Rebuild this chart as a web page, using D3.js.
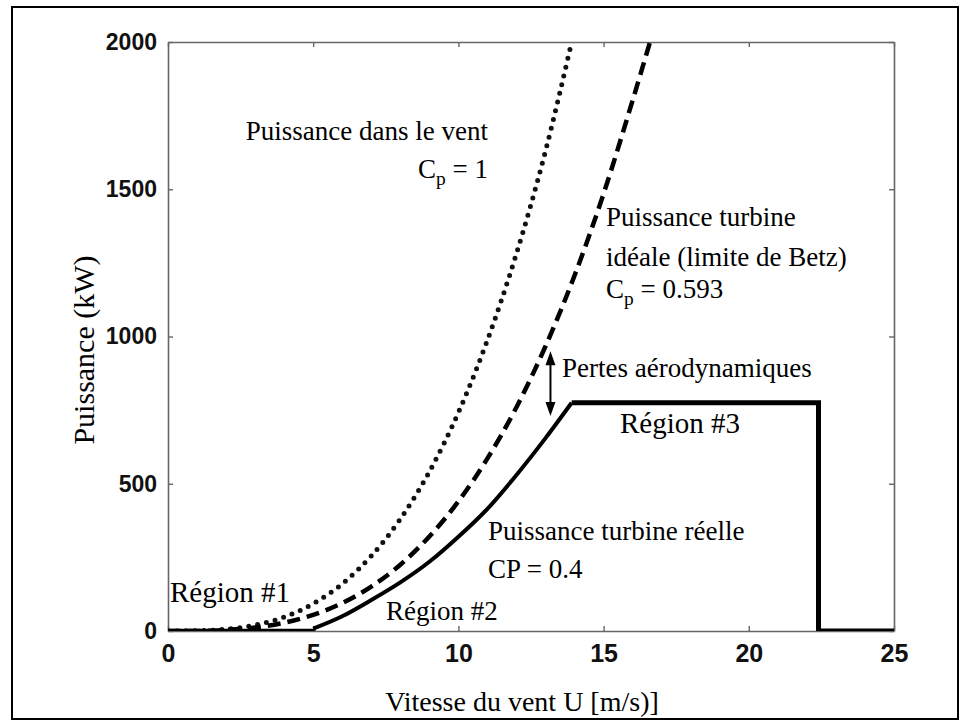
<!DOCTYPE html>
<html><head><meta charset="utf-8">
<script src="https://cdn.jsdelivr.net/npm/d3@7"></script>
<style>body{margin:0;background:#fff}svg{display:block}</style>
</head><body>
<script>
const xTicks = [0, 5, 10, 15, 20, 25];
const yTicks = [0, 500, 1000, 1500, 2000];
const windSpeed = [0, 1, 2, 3, 4, 5, 6, 7, 8, 9, 10, 11, 12, 13, 13.9];
const windPower = [0, 1, 6, 20, 47, 93, 160, 255, 380, 541, 742, 988, 1282, 1630, 2000];
const betzSpeed = [0, 1, 2, 3, 4, 5, 6, 7, 8, 9, 10, 11, 12, 13, 14, 15, 16, 16.6];
const betzPower = [0, 0, 4, 12, 28, 55, 95, 151, 225, 321, 440, 586, 760, 967, 1207, 1485, 1802, 2000];
const realRiseSpeed = [5, 6, 7, 8, 9, 10, 11, 12, 13, 13.9];
const realRisePower = [8, 50, 105, 165, 235, 320, 415, 530, 655, 775];
const realFlatSpeed = [0, 5, 5];
const realFlatPower = [0, 0, 8];
const realTopSpeed = [13.9, 22.4, 22.4, 25];
const realTopPower = [775, 775, 0, 0];
const arrowSpeed = 13.17, arrowTop = 950, arrowBottom = 730;

const W = 960, H = 721;
const svg = d3.select("body").append("svg").attr("width", W).attr("height", H);
const L = 168, R = 894, T = 42, B = 631;
const x = d3.scaleLinear().domain([0, 25]).range([L, R]);
const y = d3.scaleLinear().domain([0, 2000]).range([B, T]);

// outer frame
svg.append("rect").attr("x", 12).attr("y", 7).attr("width", 946).attr("height", 712)
  .attr("fill", "none").attr("stroke", "#000").attr("stroke-width", 2);

svg.append("defs").append("clipPath").attr("id", "clip")
  .append("rect").attr("x", L).attr("y", T).attr("width", R - L).attr("height", B - T);

// axes box
const axColor = "#666";
const g = svg.append("g");
const gx = g.append("g").attr("transform", `translate(0,${B})`)
  .call(d3.axisBottom(x).tickValues(xTicks).tickSizeInner(-5).tickSizeOuter(0).tickPadding(13).tickFormat(d3.format("d")));
g.append("g").attr("transform", `translate(0,${T})`)
  .call(d3.axisTop(x).tickValues(xTicks).tickSizeInner(-5).tickSizeOuter(0).tickFormat(""));
const gy = g.append("g").attr("transform", `translate(${L},0)`)
  .call(d3.axisLeft(y).tickValues(yTicks).tickSizeInner(-5).tickSizeOuter(0).tickPadding(11).tickFormat(d3.format("d")));
g.append("g").attr("transform", `translate(${R},0)`)
  .call(d3.axisRight(y).tickValues(yTicks).tickSizeInner(-5).tickSizeOuter(0).tickFormat(""));
g.selectAll(".domain").attr("stroke", axColor).attr("stroke-width", 1.6);
g.selectAll(".tick line").attr("stroke", axColor).attr("stroke-width", 1.4);
g.selectAll(".tick text").attr("font-family", "Liberation Sans, Arial, sans-serif")
  .attr("font-weight", "bold").attr("fill", "#111");
gy.selectAll(".tick text").attr("font-size", 23);
gx.selectAll(".tick text").attr("font-size", 25);

const plot = svg.append("g").attr("clip-path", "url(#clip)");
const toPts = (xs, ys) => xs.map((v, i) => [v, ys[i]]);
const smooth = d3.line().x(d => x(d[0])).y(d => y(d[1])).curve(d3.curveMonotoneX);
const straight = d3.line().x(d => x(d[0])).y(d => y(d[1]));

plot.append("path").attr("d", smooth(toPts(windSpeed, windPower)))
  .attr("fill", "none").attr("stroke", "#111").attr("stroke-width", 5)
  .attr("stroke-linecap", "round").attr("stroke-dasharray", "0 9");
plot.append("path").attr("d", smooth(toPts(betzSpeed, betzPower)))
  .attr("fill", "none").attr("stroke", "#000").attr("stroke-width", 4.5)
  .attr("stroke-dasharray", "13 7");
plot.append("path").attr("d", straight(toPts(realFlatSpeed, realFlatPower)))
  .attr("fill", "none").attr("stroke", "#000").attr("stroke-width", 4.5);
plot.append("path").attr("d", smooth(toPts(realRiseSpeed, realRisePower)))
  .attr("fill", "none").attr("stroke", "#000").attr("stroke-width", 4);
plot.append("path").attr("d", straight(toPts(realTopSpeed, realTopPower)))
  .attr("fill", "none").attr("stroke", "#000").attr("stroke-width", 5);

// arrow
const ax = x(arrowSpeed), ay1 = y(arrowTop), ay2 = y(arrowBottom);
svg.append("line").attr("x1", ax).attr("x2", ax).attr("y1", ay1 + 8).attr("y2", ay2 - 8)
  .attr("stroke", "#000").attr("stroke-width", 2);
svg.append("path").attr("d", `M${ax},${ay1} L${ax - 5},${ay1 + 14} L${ax + 5},${ay1 + 14} Z`).attr("fill", "#000");
svg.append("path").attr("d", `M${ax},${ay2} L${ax - 5},${ay2 - 14} L${ax + 5},${ay2 - 14} Z`).attr("fill", "#000");

// annotations
const serif = "Liberation Serif, Times New Roman, serif";
function label(txt, px, py, size, anchor) {
  return svg.append("text").attr("x", px).attr("y", py).attr("font-family", serif)
    .attr("font-size", size).attr("text-anchor", anchor || "start").attr("fill", "#000").text(txt);
}
function cp(px, py, size, rest, anchor) {
  const t = svg.append("text").attr("x", px).attr("y", py).attr("font-family", serif)
    .attr("font-size", size).attr("text-anchor", anchor || "start").attr("fill", "#000");
  t.append("tspan").text("C");
  t.append("tspan").attr("dy", 7).attr("font-size", size * 0.72).text("p");
  t.append("tspan").attr("dy", -7).text(rest);
}
label("Puissance dans le vent", 488, 140, 27, "end");
cp(488, 178, 27, " = 1", "end");
label("Puissance turbine", 606, 226, 27);
label("idéale (limite de Betz)", 606, 266, 27);
cp(606, 298, 27, " = 0.593");
label("Pertes aérodynamiques", 562, 377, 27);
label("Région #3", 620, 433, 29);
label("Puissance turbine réelle", 488, 540, 27);
label("CP = 0.4", 488, 578, 27);
label("Région #1", 170, 602, 29);
label("Région #2", 386, 620, 27);
label("Vitesse du vent U [m/s)]", 522, 711, 28, "middle");
svg.append("text").attr("transform", "translate(94,350) rotate(-90)")
  .attr("font-family", serif).attr("font-size", 30).attr("text-anchor", "middle").text("Puissance (kW)");
</script>
</body></html>
